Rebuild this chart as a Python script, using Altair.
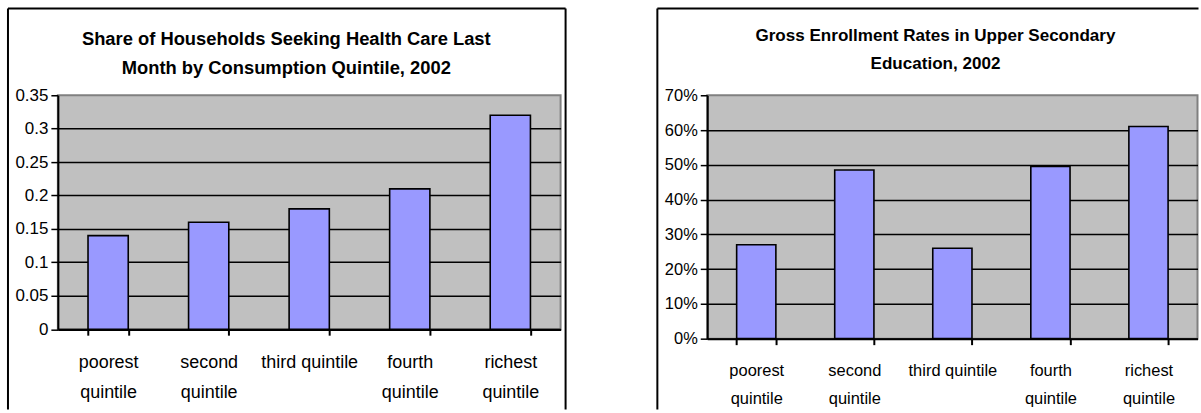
import altair as alt
import pandas as pd

# ---------------- data ----------------
categories = ["poorest quintile", "second quintile", "third quintile",
              "fourth quintile", "richest quintile"]
health_share = [0.14, 0.16, 0.18, 0.21, 0.32]
enrollment_rate = [0.27, 0.485, 0.26, 0.495, 0.61]
health_ticks = [0, 0.05, 0.1, 0.15, 0.2, 0.25, 0.3, 0.35]
enroll_ticks = [0, 0.1, 0.2, 0.3, 0.4, 0.5, 0.6, 0.7]
health_title = ["Share of Households Seeking Health Care Last",
                "Month by Consumption Quintile, 2002"]
enroll_title = ["Gross Enrollment Rates in Upper Secondary",
                "Education, 2002"]

FONT = "Liberation Sans"
WRAP_EXPR = "indexof(datum.label, 'third') >= 0 ? datum.label : split(datum.label, ' ')"


def panel(values, ticks, fmt, title_lines, W, H, frame, title_xy, title_size,
          title_lh, xlab_size, xlab_pad, xlab_lh, ylab_size, right_side=True):
    df = pd.DataFrame({"cat": categories, "v": values})
    top = ticks[-1]
    x = alt.X(
        "cat:N", sort=categories,
        scale=alt.Scale(paddingInner=0.6, paddingOuter=0.3),
        axis=alt.Axis(
            title=None, labelAngle=0, tickBand="extent", tickSize=6,
            tickWidth=2, tickColor="black", domainColor="black",
            domainWidth=2, labelExpr=WRAP_EXPR, labelFont=FONT,
            labelFontSize=xlab_size, labelColor="black",
            labelBaseline="alphabetic", labelPadding=xlab_pad,
            labelLineHeight=xlab_lh, labelOverlap=False, grid=False,
        ),
    )
    y = alt.Y(
        "v:Q",
        scale=alt.Scale(domain=[0, top], nice=False, zero=True),
        axis=alt.Axis(
            title=None, values=ticks, format=fmt, grid=True,
            gridColor="black", gridWidth=1.5,
            gridOpacity={"condition": {"test": f"datum.value >= {top} - 1e-9",
                                       "value": 0}, "value": 1},
            tickSize=7, tickWidth=1.5, tickColor="black",
            domainColor="black", domainWidth=2, labelFont=FONT,
            labelFontSize=ylab_size, labelColor="black", labelPadding=3,
        ),
    )
    bars = alt.Chart(df).mark_bar(
        fill="#9999ff", stroke="black", strokeWidth=1.6
    ).encode(x=x, y=y)

    one = alt.Data(values=[{"k": 1}])
    fl, ft, fr, fb = frame
    layers = [bars]
    layers.append(alt.Chart(one).mark_rule(color="black", strokeWidth=2).encode(
        x=alt.value(fl), y=alt.value(ft), y2=alt.value(fb)))
    layers.append(alt.Chart(one).mark_rule(color="black", strokeWidth=2).encode(
        x=alt.value(fl), x2=alt.value(fr), y=alt.value(ft)))
    if right_side:
        layers.append(alt.Chart(one).mark_rule(color="black", strokeWidth=2).encode(
            x=alt.value(fr), y=alt.value(ft), y2=alt.value(fb)))
    layers.append(alt.Chart(one).mark_text(
        text=title_lines, font=FONT, fontWeight="bold", fontSize=title_size,
        lineHeight=title_lh, align="center", baseline="middle", color="black",
    ).encode(x=alt.value(title_xy[0]), y=alt.value(title_xy[1])))
    return alt.layer(*layers).properties(width=W, height=H)


left = panel(health_share, health_ticks, ".2~f", health_title,
             W=504, H=234.5, frame=(-50, -87, 509, 315),
             title_xy=(229, -56.5), title_size=18.4, title_lh=29,
             xlab_size=18, xlab_pad=32, xlab_lh=30, ylab_size=17)

right = panel(enrollment_rate, enroll_ticks, ".0%", enroll_title,
              W=491.5, H=244, frame=(-50, -87, 492.5, 315),
              title_xy=(228.8, -59), title_size=17.1, title_lh=28,
              xlab_size=16.5, xlab_pad=31, xlab_lh=28, ylab_size=16.5,
              right_side=False)

chart = alt.concat(left, right, columns=2, align="none", spacing=88).properties(
    padding={"left": 6, "top": 6, "right": 0, "bottom": 0},
    background="white",
).configure_view(
    fill="#c0c0c0", stroke="#808080", strokeWidth=2
)

chart.save("out.html", embed_options={"renderer": "svg", "actions": False})
